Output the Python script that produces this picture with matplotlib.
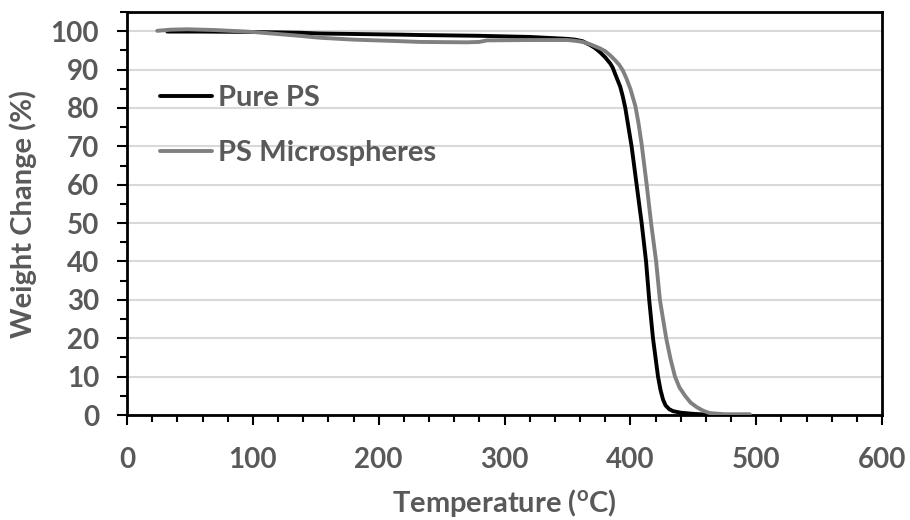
import matplotlib
matplotlib.use("Agg")
import matplotlib.pyplot as plt
from matplotlib.ticker import MultipleLocator

plt.rcParams['font.family'] = ['Lato', 'DejaVu Sans']
plt.rcParams['font.weight'] = 'bold'
plt.rcParams['axes.labelweight'] = 'bold'
plt.rcParams['mathtext.fontset'] = 'custom'
plt.rcParams['mathtext.rm'] = 'Lato:bold'
plt.rcParams['mathtext.it'] = 'Lato:bold'

# Pure PS
pure_T = [32, 60, 100, 137, 153, 217, 233, 280, 320, 344, 350, 356, 362, 368,
          372, 376, 380, 384, 386, 388, 392, 394, 396, 398.5, 401, 405, 409,
          412.5, 415, 418, 422, 424, 426, 428, 431, 434, 440, 450, 461]
pure_W = [99.9, 99.9, 99.8, 99.6, 99.4, 99.1, 99.0, 98.8, 98.5, 98.1, 98.0, 97.8,
          97.4, 96.4, 95.6, 94.5, 93.2, 91.6, 90.5, 88.8, 85.5, 83.0, 80.0, 75.0,
          70.0, 60.0, 50.0, 40.0, 30.0, 20.0, 10.0, 6.5, 4.0, 2.5, 1.5, 1.0,
          0.6, 0.3, 0.1]

# PS Microspheres
micro_T = [24, 35, 48, 70, 100, 137, 153, 180, 217, 233, 270, 280, 286, 320, 350,
           356, 362, 368, 376, 380, 384, 388, 391, 394, 397, 400, 404, 406.5,
           409, 413, 416.5, 420.5, 423.5, 428.5, 432, 435.5, 439, 443.5, 448,
           453, 458, 463, 475, 495]
micro_W = [100.1, 100.4, 100.5, 100.3, 99.8, 98.8, 98.3, 97.8, 97.4, 97.2, 97.1,
           97.2, 97.6, 97.7, 97.7, 97.5, 97.2, 96.6, 95.5, 94.8, 93.7, 92.4, 91.3,
           89.8, 87.6, 85.0, 80.5, 76.0, 70.5, 60.0, 50.0, 40.0, 30.0, 20.0, 14.5,
           10.0, 7.2, 5.0, 3.2, 2.0, 1.1, 0.5, 0.2, 0.2]

x_ticks = [0, 100, 200, 300, 400, 500, 600]
y_ticks = [0, 10, 20, 30, 40, 50, 60, 70, 80, 90, 100]

text_color = '#595959'

fig = plt.figure(figsize=(9.1, 5.2), dpi=100)
ax = fig.add_axes([127/910, 1 - 415/520, (882-127)/910, (415-12)/520])

ax.plot(pure_T, pure_W, color='black', lw=2.8, label='Pure PS',
        solid_capstyle='round', solid_joinstyle='round', zorder=3)
ax.plot(micro_T, micro_W, color='#808080', lw=2.8, label='PS Microspheres',
        solid_capstyle='round', solid_joinstyle='round', zorder=3)

ax.set_xlim(0, 600)
ax.set_ylim(0, 105)
ax.set_xticks(x_ticks)
ax.set_yticks(y_ticks)
ax.xaxis.set_minor_locator(MultipleLocator(20))
ax.yaxis.set_minor_locator(MultipleLocator(5))
ax.grid(axis='y', which='major', color='#d9d9d9', lw=1.5, zorder=0)
ax.set_axisbelow(True)

for s in ax.spines.values():
    s.set_color('black')
    s.set_linewidth(2)

ax.tick_params(axis='both', which='major', direction='out', length=7, width=1.5,
               color='black', labelcolor=text_color, labelsize=20)
ax.tick_params(axis='both', which='minor', direction='out', length=5, width=1.5, color='black')
ax.tick_params(axis='y', which='major', pad=13)
ax.tick_params(axis='x', which='major', pad=16)
for lab in ax.get_xticklabels() + ax.get_yticklabels():
    lab.set_fontweight('bold')

ax.set_xlabel('Temperature ($^{\\rm o}$C)', fontsize=21, color=text_color,
              fontweight='bold', labelpad=10)
ax.set_ylabel('Weight Change (%)', fontsize=21, color=text_color,
              fontweight='bold', labelpad=10)

leg = ax.legend(loc='upper left', bbox_to_anchor=((160-127)/755, (415-85)/403),
                frameon=False, prop={'size': 21, 'weight': 'bold'},
                handlelength=1.78, handletextpad=0.2,
                labelspacing=0.99, borderpad=0, borderaxespad=0)
for t in leg.get_texts():
    t.set_color(text_color)

fig.savefig('out.png', dpi=100)
